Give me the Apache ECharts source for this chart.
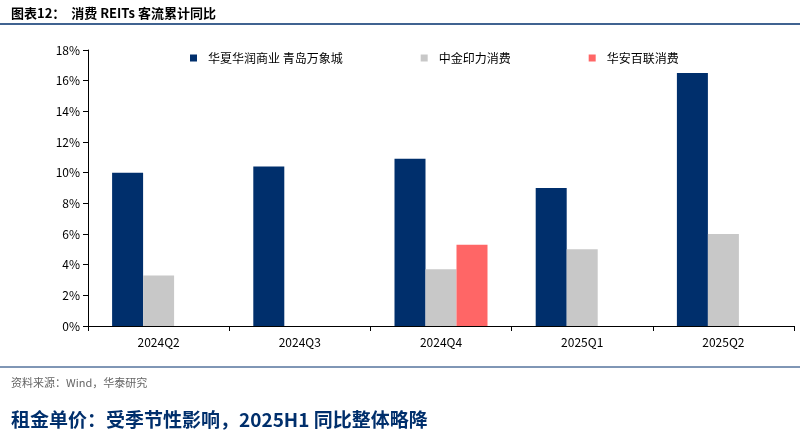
<!DOCTYPE html>
<html>
<head>
<meta charset="utf-8">
<script src="https://cdn.jsdelivr.net/npm/echarts@6/dist/echarts.min.js"></script>
<style>
  body { margin: 0; background: #fff; }
  #chart { width: 800px; height: 441px; }
</style>
</head>
<body>
<div id="chart"></div>
<script>
// 季度
const categories = ['2024Q2', '2024Q3', '2024Q4', '2025Q1', '2025Q2']
// 客流累计同比（%）
const huarun = [10.0, 10.4, 10.9, 9.0, 16.5]
const yinli = [3.3, null, 3.7, 5.0, 6.0]
const bailian = [null, null, 5.3, null, null]
const seriesNames = ['华夏华润商业 青岛万象城', '中金印力消费', '华安百联消费']
const colors = ['#002F6C', '#C8C8C8', '#FF6666']

const font = '"Noto Sans CJK SC", "Liberation Sans", sans-serif'
const chart = echarts.init(document.getElementById('chart'))
chart.setOption({
  animation: false,
  textStyle: { fontFamily: font },
  title: [
    { text: '图表12：  消费 REITs 客流累计同比', left: 6, top: 2,
      textStyle: { fontSize: 13, fontWeight: 'bold', color: '#000', fontFamily: font } },
    { text: '资料来源：Wind，华泰研究', left: 6, top: 372,
      textStyle: { fontSize: 11, fontWeight: 'normal', color: '#666', fontFamily: font } },
    { text: '租金单价：受季节性影响，2025H1 同比整体略降', left: 6, top: 405,
      textStyle: { fontSize: 19, fontWeight: 'bold', color: '#002F6C', fontFamily: font } }
  ],
  graphic: [
    { type: 'line', shape: { x1: 0, y1: 24, x2: 800, y2: 24 }, style: { stroke: '#002F6C', lineWidth: 1.5 } },
    { type: 'line', shape: { x1: 0, y1: 367, x2: 800, y2: 367 }, style: { stroke: '#002F6C', lineWidth: 1 } }
  ],
  legend: {
    top: 47, left: 185, itemWidth: 7, itemHeight: 7, itemGap: 78,
    icon: 'rect',
    textStyle: { fontSize: 12, color: '#000', padding: [0, 0, 0, 6] },
    data: seriesNames
  },
  grid: { left: 88, right: 6, top: 50, bottom: 115 },
  xAxis: {
    type: 'category',
    data: categories,
    axisLine: { lineStyle: { color: '#000' } },
    axisTick: { show: true, lineStyle: { color: '#000' }, length: 5 },
    axisLabel: { color: '#000', fontSize: 12, margin: 10 }
  },
  yAxis: {
    type: 'value', min: 0, max: 18, interval: 2,
    axisLine: { show: true, lineStyle: { color: '#000' } },
    axisTick: { show: true, lineStyle: { color: '#000' } },
    splitLine: { show: false },
    axisLabel: { color: '#000', fontSize: 12, formatter: v => v + '%' }
  },
  series: [
    { name: seriesNames[0], type: 'bar', data: huarun, barWidth: 31, barGap: '0%', itemStyle: { color: colors[0] } },
    { name: seriesNames[1], type: 'bar', data: yinli, barWidth: 31, barGap: '0%', itemStyle: { color: colors[1] } },
    { name: seriesNames[2], type: 'bar', data: bailian, barWidth: 31, barGap: '0%', itemStyle: { color: colors[2] } }
  ]
})
</script>
</body>
</html>
